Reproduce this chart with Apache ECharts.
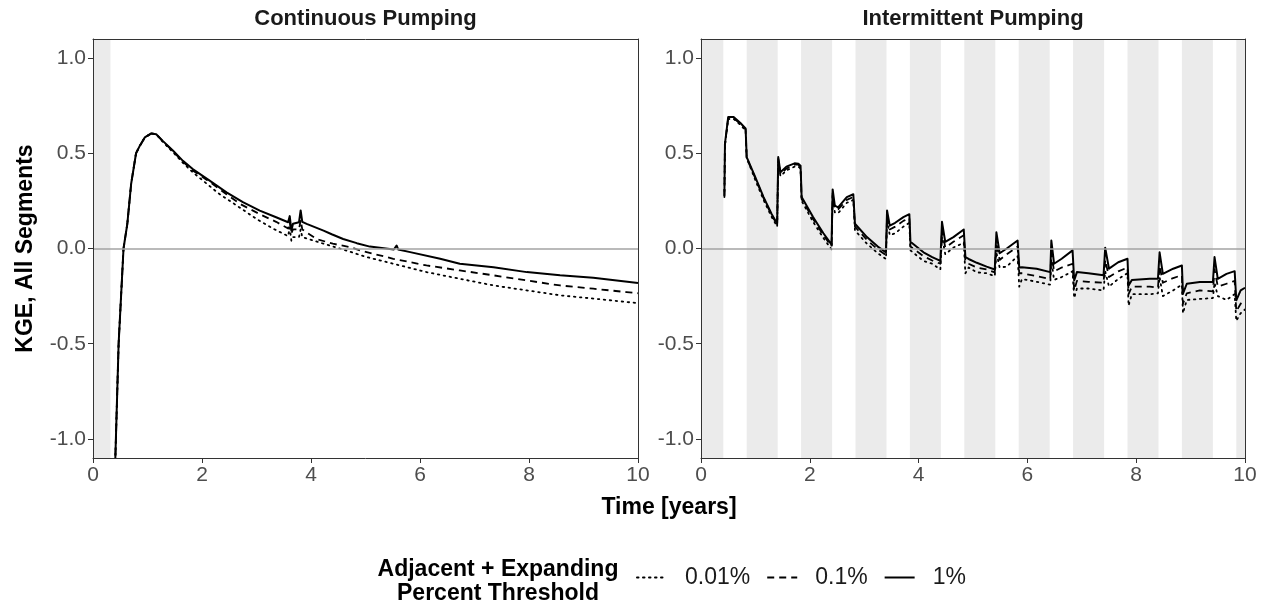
<!DOCTYPE html>
<html>
<head>
<meta charset="utf-8">
<script src="https://cdn.jsdelivr.net/npm/echarts@6/dist/echarts.min.js"></script>
<style>
  html, body { margin: 0; padding: 0; background: #fff; }
  #chart { width: 1270px; height: 607px; }
</style>
</head>
<body>
<div id="chart"></div>
<script>
// KGE over time for two pumping schemes, three percent thresholds each.

const seriesNames = ['0.01%', '0.1%', '1%'];
const yTicks = [-1, -0.5, 0, 0.5, 1];

// Continuous pumping: warm-up period and per-threshold curves
const contShade = [[0, 0.32]];

const contTime1 = [0.39, 0.41, 0.47, 0.56, 0.63, 0.70, 0.79, 0.86, 0.95, 1.07, 1.16, 1.28, 1.47, 1.65, 1.83, 2.14, 2.45, 2.75, 3.06, 3.36, 3.58, 3.61, 3.64, 3.67, 3.78, 3.81, 3.84, 3.92, 4.23, 4.38, 4.59, 4.84, 5.08, 5.52, 5.57, 5.60, 5.82, 6.37, 6.73, 7.35, 7.96, 8.57, 9.18, 10.0];
const contKge1  = [-1.4, -1.1, -0.5, 0.0, 0.13, 0.34, 0.50, 0.54, 0.583, 0.604, 0.60, 0.565, 0.513, 0.46, 0.417, 0.356, 0.295, 0.243, 0.199, 0.164, 0.138, 0.17, 0.094, 0.13, 0.138, 0.2, 0.14, 0.129, 0.094, 0.075, 0.05, 0.028, 0.01, -0.005, 0.016, -0.005, -0.019, -0.054, -0.08, -0.098, -0.124, -0.141, -0.154, -0.181];

const contTime01 = [0.39, 0.41, 0.47, 0.56, 0.63, 0.70, 0.79, 0.86, 0.95, 1.07, 1.16, 1.28, 1.47, 1.65, 1.83, 2.14, 2.45, 2.70, 3.06, 3.36, 3.58, 3.61, 3.64, 3.67, 3.78, 3.81, 3.84, 4.10, 4.40, 4.72, 4.90, 5.51, 6.12, 6.73, 7.35, 7.96, 8.57, 9.18, 9.79, 10.0];
const contKge01  = [-1.4, -1.1, -0.5, 0.0, 0.13, 0.34, 0.50, 0.54, 0.583, 0.604, 0.60, 0.563, 0.51, 0.455, 0.41, 0.35, 0.285, 0.234, 0.18, 0.14, 0.105, 0.14, 0.08, 0.10, 0.10, 0.15, 0.10, 0.05, 0.025, 0.007, -0.01, -0.054, -0.089, -0.115, -0.141, -0.168, -0.194, -0.211, -0.229, -0.235];

const contTime001 = [0.39, 0.41, 0.47, 0.56, 0.63, 0.70, 0.79, 0.86, 0.95, 1.07, 1.16, 1.28, 1.47, 1.65, 1.83, 2.02, 2.30, 2.64, 3.00, 3.30, 3.58, 3.61, 3.64, 3.67, 3.78, 3.81, 3.84, 4.23, 4.53, 5.02, 5.51, 6.12, 6.73, 7.35, 7.96, 8.57, 9.18, 10.0];
const contKge001  = [-1.4, -1.1, -0.5, 0.0, 0.13, 0.34, 0.50, 0.54, 0.583, 0.604, 0.60, 0.56, 0.505, 0.45, 0.40, 0.356, 0.29, 0.225, 0.155, 0.105, 0.065, 0.11, 0.04, 0.06, 0.06, 0.10, 0.06, 0.025, 0.0, -0.045, -0.08, -0.124, -0.159, -0.194, -0.22, -0.246, -0.263, -0.287];

// Intermittent pumping: shaded periods and per-threshold curves on a shared time grid
const intShade = [[0, 0.41], [0.84, 1.41], [1.84, 2.41], [2.84, 3.41], [3.84, 4.41], [4.84, 5.41], [5.84, 6.41], [6.84, 7.41], [7.84, 8.41], [8.84, 9.41], [9.84, 10]];

const intTime = [
  0.43, 0.44, 0.50, 0.53, 0.60, 0.72, 0.82, 0.84, 0.87, 0.99, 1.15, 1.30, 1.40,
  1.42, 1.46, 1.57, 1.72, 1.79, 1.83, 1.85, 2.06, 2.25, 2.40,
  2.42, 2.46, 2.52, 2.68, 2.80, 2.83, 3.05, 3.25, 3.40,
  3.42, 3.47, 3.57, 3.72, 3.83, 3.85, 4.09, 4.25, 4.40,
  4.43, 4.49, 4.64, 4.83, 4.86, 4.92, 5.07, 5.25, 5.40,
  5.43, 5.49, 5.62, 5.82, 5.85, 5.90, 6.17, 6.42,
  6.44, 6.49, 6.63, 6.83, 6.86, 6.91, 7.12, 7.40,
  7.43, 7.50, 7.67, 7.84, 7.86, 7.92, 8.25, 8.40,
  8.43, 8.49, 8.68, 8.84, 8.86, 8.93, 9.17, 9.41,
  9.44, 9.50, 9.66, 9.81, 9.84, 9.92, 10.0
];
const intKge1 = [
  0.28, 0.55, 0.69, 0.70, 0.69, 0.66, 0.63, 0.48, 0.47, 0.38, 0.27, 0.18, 0.13,
  0.48, 0.40, 0.43, 0.447, 0.445, 0.435, 0.27, 0.165, 0.08, 0.02,
  0.31, 0.225, 0.216, 0.27, 0.285, 0.13, 0.06, 0.01, -0.02,
  0.20, 0.12, 0.135, 0.165, 0.18, 0.035, -0.02, -0.045, -0.065,
  0.14, 0.035, 0.06, 0.10, -0.045, -0.055, -0.075, -0.095, -0.11,
  0.085, -0.025, 0.0, 0.042, -0.10, -0.098, -0.106, -0.124,
  0.042, -0.08, -0.054, -0.01, -0.168, -0.124, -0.13, -0.141,
  0.004, -0.106, -0.072, -0.054, -0.194, -0.165, -0.159, -0.159,
  -0.02, -0.133, -0.106, -0.089, -0.237, -0.185, -0.176, -0.176,
  -0.045, -0.159, -0.133, -0.119, -0.272, -0.22, -0.206
];
const intKge01 = [
  0.275, 0.545, 0.685, 0.695, 0.685, 0.655, 0.625, 0.475, 0.465, 0.375, 0.265, 0.175, 0.125,
  0.47, 0.39, 0.42, 0.44, 0.44, 0.43, 0.26, 0.155, 0.07, 0.01,
  0.29, 0.21, 0.205, 0.255, 0.27, 0.115, 0.045, -0.005, -0.035,
  0.17, 0.10, 0.115, 0.145, 0.16, 0.01, -0.04, -0.063, -0.08,
  0.10, 0.005, 0.035, 0.07, -0.07, -0.08, -0.10, -0.11, -0.125,
  0.03, -0.06, -0.03, 0.01, -0.13, -0.13, -0.145, -0.16,
  -0.02, -0.12, -0.10, -0.08, -0.22, -0.17, -0.175, -0.18,
  -0.06, -0.15, -0.12, -0.10, -0.24, -0.20, -0.20, -0.205,
  -0.09, -0.18, -0.155, -0.14, -0.29, -0.235, -0.22, -0.225,
  -0.11, -0.20, -0.185, -0.17, -0.33, -0.29, -0.27
];
const intKge001 = [
  0.27, 0.54, 0.68, 0.69, 0.68, 0.65, 0.62, 0.47, 0.455, 0.365, 0.255, 0.165, 0.115,
  0.46, 0.38, 0.41, 0.43, 0.43, 0.42, 0.25, 0.14, 0.055, -0.005,
  0.28, 0.19, 0.185, 0.24, 0.255, 0.095, 0.025, -0.025, -0.055,
  0.15, 0.07, 0.08, 0.115, 0.135, -0.01, -0.065, -0.08, -0.11,
  0.06, -0.03, 0.005, 0.03, -0.13, -0.10, -0.125, -0.13, -0.145,
  -0.02, -0.10, -0.095, -0.04, -0.20, -0.16, -0.175, -0.19,
  -0.06, -0.165, -0.15, -0.12, -0.26, -0.21, -0.21, -0.22,
  -0.12, -0.20, -0.16, -0.13, -0.30, -0.24, -0.24, -0.235,
  -0.15, -0.25, -0.22, -0.19, -0.34, -0.27, -0.265, -0.26,
  -0.18, -0.25, -0.27, -0.24, -0.38, -0.34, -0.32
];

const FONT = '"Liberation Sans", Arial, sans-serif';
const INK = '#333333';
const LABEL = '#4d4d4d';

const lineStyles = {
  '0.01%': { type: [1.5, 4.5], width: 1.8, cap: 'round' },
  '0.1%':  { type: [7, 5], width: 1.8 },
  '1%':    { type: 'solid', width: 2 }
};

const pair = (xs, ys) => xs.map((x, i) => [x, ys[i]]);

function lineSeries(name, gridIdx, data) {
  const ls = lineStyles[name];
  return {
    name, type: 'line', xAxisIndex: gridIdx * 2, yAxisIndex: gridIdx * 2,
    data, symbol: 'none', showSymbol: false, smooth: false, clip: true,
    animation: false, z: 3,
    lineStyle: { color: '#000', width: ls.width, type: ls.type, cap: ls.cap || 'butt', join: 'round' },
    itemStyle: { color: '#000' }
  };
}

function bandSeries(gridIdx, bands) {
  return {
    name: 'bands' + gridIdx, type: 'line', xAxisIndex: gridIdx * 2, yAxisIndex: gridIdx * 2,
    data: [], symbol: 'none', silent: true, animation: false, z: 1,
    markArea: {
      silent: true, itemStyle: { color: '#ebebeb' },
      data: bands.map(b => [{ xAxis: b[0] }, { xAxis: b[1] }])
    },
    markLine: {
      silent: true, symbol: ['none', 'none'], label: { show: false },
      lineStyle: { color: '#a3a3a3', width: 1.6, type: 'solid' },
      data: [{ yAxis: 0 }]
    }
  };
}

function axesFor(gridIdx, showName) {
  const xMain = {
    type: 'value', gridIndex: gridIdx, min: 0, max: 10, interval: 2, position: 'bottom', z: 5,
    axisLine: { show: true, onZero: false, lineStyle: { color: INK, width: 1 } },
    axisTick: { show: true, length: 5, lineStyle: { color: INK } },
    axisLabel: { color: LABEL, fontFamily: FONT, fontSize: 21, margin: 7 },
    splitLine: { show: false }
  };
  const xTop = {
    type: 'value', gridIndex: gridIdx, min: 0, max: 10, position: 'top', z: 5,
    axisLine: { show: true, onZero: false, lineStyle: { color: INK, width: 1 } },
    axisTick: { show: false }, axisLabel: { show: false }, splitLine: { show: false }
  };
  const yMain = {
    type: 'value', gridIndex: gridIdx, min: -1.1, max: 1.1, position: 'left', z: 5,
    axisLine: { show: true, onZero: false, lineStyle: { color: INK, width: 1 } },
    axisTick: { show: true, length: 5, lineStyle: { color: INK }, customValues: yTicks },
    axisLabel: { color: LABEL, fontFamily: FONT, fontSize: 21, margin: 7,
                 customValues: yTicks, formatter: v => v.toFixed(1) },
    splitLine: { show: false }
  };
  if (showName) {
    yMain.name = 'KGE, All Segments';
    yMain.nameLocation = 'middle';
    yMain.nameGap = 56;
    yMain.nameTextStyle = { color: '#000', fontFamily: FONT, fontSize: 23, fontWeight: 'bold' };
  }
  const yRight = {
    type: 'value', gridIndex: gridIdx, min: -1.1, max: 1.1, position: 'right', z: 5,
    axisLine: { show: true, onZero: false, lineStyle: { color: INK, width: 1 } },
    axisTick: { show: false }, axisLabel: { show: false }, splitLine: { show: false }
  };
  return { x: [xMain, xTop], y: [yMain, yRight] };
}

const a0 = axesFor(0, true);
const a1 = axesFor(1, false);

const option = {
  animation: false,
  backgroundColor: '#ffffff',
  grid: [
    { left: 93, right: 632, top: 39, bottom: 149 },
    { left: 701, right: 25, top: 39, bottom: 149 }
  ],
  xAxis: [...a0.x, ...a1.x],
  yAxis: [...a0.y, ...a1.y],
  legend: {
    data: seriesNames,
    orient: 'horizontal',
    left: 636, top: 566, padding: 0,
    itemWidth: 30, itemHeight: 14, itemGap: 16,
    itemStyle: { opacity: 0, borderWidth: 0 },
    textStyle: { color: '#1a1a1a', fontFamily: FONT, fontSize: 23, padding: [0, 0, 0, 13] },
    selectedMode: false
  },
  graphic: [
    { type: 'text', x: 365.5, y: 19, silent: true,
      style: { text: 'Continuous Pumping', font: 'bold 22px ' + FONT, fill: '#1a1a1a', align: 'center', verticalAlign: 'middle' } },
    { type: 'text', x: 973, y: 19, silent: true,
      style: { text: 'Intermittent Pumping', font: 'bold 22px ' + FONT, fill: '#1a1a1a', align: 'center', verticalAlign: 'middle' } },
    { type: 'text', x: 669, y: 508, silent: true,
      style: { text: 'Time [years]', font: 'bold 23px ' + FONT, fill: '#000', align: 'center', verticalAlign: 'middle' } },
    { type: 'text', x: 498, y: 582, silent: true,
      style: { text: 'Adjacent + Expanding\nPercent Threshold', font: 'bold 23px ' + FONT, lineHeight: 24,
               fill: '#000', align: 'center', verticalAlign: 'middle' } }
  ],
  series: [
    bandSeries(0, contShade),
    lineSeries('0.01%', 0, pair(contTime001, contKge001)),
    lineSeries('0.1%', 0, pair(contTime01, contKge01)),
    lineSeries('1%', 0, pair(contTime1, contKge1)),
    bandSeries(1, intShade),
    lineSeries('0.01%', 1, pair(intTime, intKge001)),
    lineSeries('0.1%', 1, pair(intTime, intKge01)),
    lineSeries('1%', 1, pair(intTime, intKge1))
  ]
};

const chart = echarts.init(document.getElementById('chart'), null, { renderer: 'canvas' });
chart.setOption(option);
</script>
</body>
</html>
